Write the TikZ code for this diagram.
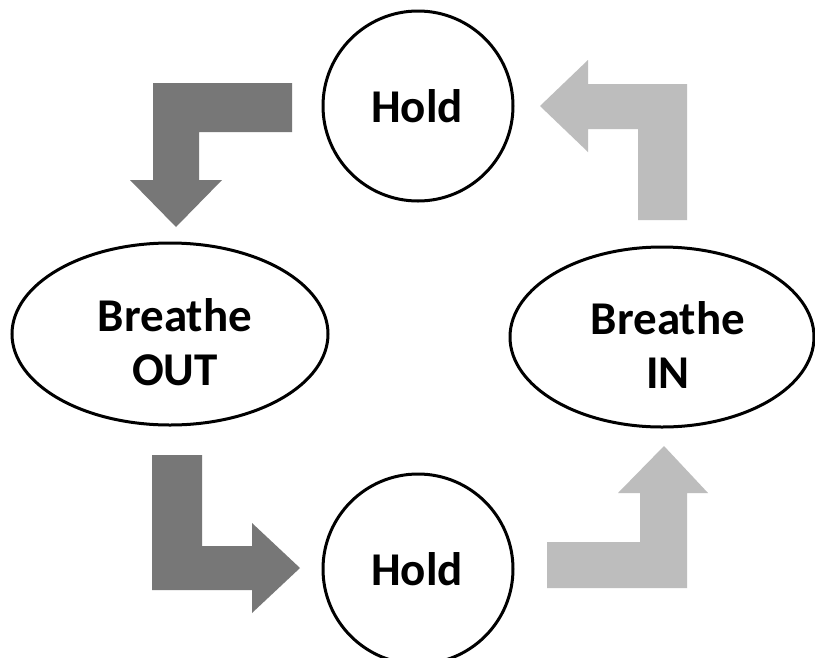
\documentclass[tikz,border=0pt]{standalone}
\usepackage{fontspec}
\setmainfont{Carlito}
\usetikzlibrary{shapes.geometric}
\definecolor{arrowdark}{HTML}{777777}
\definecolor{arrowlight}{HTML}{BDBDBD}
\begin{document}
\begin{tikzpicture}[x=1pt,y=-1pt,
  state/.style={draw=black,line width=3pt,fill=white,inner sep=0pt},
  txt/.style={font=\bfseries\fontsize{47}{54}\selectfont,align=center,inner sep=0pt},
  oval/.style={state,ellipse},
  round/.style={state,circle,minimum size=190pt},
  darkarrow/.style={fill=arrowdark,draw=none},
  lightarrow/.style={fill=arrowlight,draw=none}]
\useasboundingbox (0,0) rectangle (815,657);
\fill[white] (0,0) rectangle (815,657);

\node[round] (holdtop) at (418,106) {};
\node[txt] (holdtoplabel) at ([xshift=-1pt]holdtop.center) {Hold};
\node[round] (holdbot) at (418,569) {};
\node[txt] (holdbotlabel) at ([xshift=-1pt]holdbot.center) {Hold};
\node[oval,minimum width=316pt,minimum height=182pt] (out) at (170,334) {};
\node[txt] (outlabel) at ([xshift=5pt,yshift=-8pt]out.center) {Breathe\\OUT};
\node[oval,minimum width=304pt,minimum height=180pt] (in) at (662,337) {};
\node[txt] (inlabel) at ([xshift=6pt,yshift=-8pt]in.center) {Breathe\\IN};

% top-left arrow (Hold -> Breathe OUT)
\fill[darkarrow] (292,83) -- (153,83) -- (153,180) -- (130,180) -- (176,227)
  -- (222,180) -- (199,180) -- (199,132) -- (292,132) -- cycle;
% bottom-left arrow (Breathe OUT -> Hold)
\fill[darkarrow] (152,455) -- (202,455) -- (202,546) -- (252,546) -- (252,523)
  -- (300,568) -- (252,613) -- (252,590) -- (152,590) -- cycle;
% bottom-right arrow (Hold -> Breathe IN)
\fill[lightarrow] (547,542) -- (640,542) -- (640,493) -- (618,493) -- (664,446)
  -- (708,493) -- (687,493) -- (687,588) -- (547,588) -- cycle;
% top-right arrow (Breathe IN -> Hold)
\fill[lightarrow] (687,220) -- (687,84) -- (588,84) -- (588,60) -- (540,106)
  -- (588,152) -- (588,129) -- (638,129) -- (638,220) -- cycle;
\end{tikzpicture}
\end{document}
